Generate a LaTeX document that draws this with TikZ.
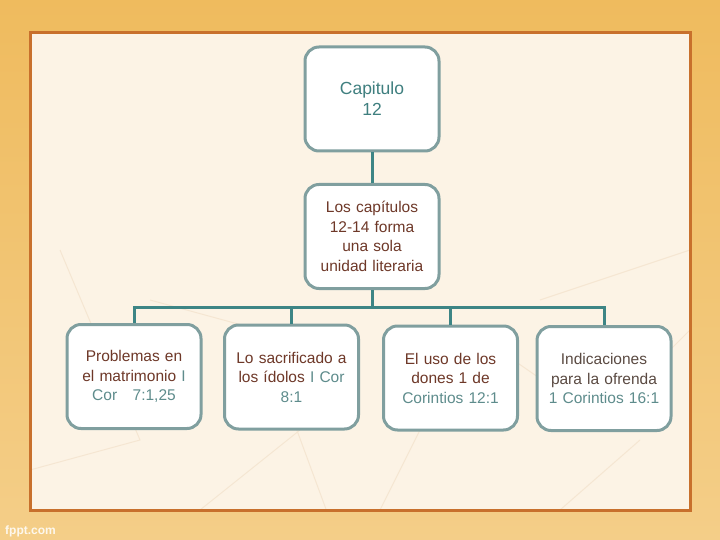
\documentclass[tikz,border=0pt]{standalone}
\usepackage{fontspec}
\setmainfont{Liberation Sans}
\definecolor{bgtop}{HTML}{EFBB5E}
\definecolor{bgbot}{HTML}{F4CE88}
\definecolor{panel}{HTML}{FCF3E5}
\definecolor{panelline}{HTML}{C8702C}
\definecolor{boxline}{HTML}{809F9F}
\definecolor{connc}{HTML}{3D8585}
\definecolor{tealtxt}{HTML}{3F7F7F}
\definecolor{browntxt}{HTML}{6E3828}
\definecolor{reftxt}{HTML}{5E8C8C}
\definecolor{graytxt}{HTML}{5A4A42}
\definecolor{texture}{HTML}{F5E6D2}
\tikzset{
  cbox/.style={draw=boxline, line width=3pt, fill=white, rounded corners=14pt,
    minimum width=134pt, minimum height=104pt, text width=128pt, align=center,
    inner sep=0pt, font=\fontsize{15.5}{19.5}\selectfont},
  conn/.style={draw=connc, line width=3pt}
}
\begin{document}
\begin{tikzpicture}[x=1pt,y=-1pt]
\useasboundingbox (0,0) rectangle (720,540);
\shade[top color=bgtop, bottom color=bgbot] (0,0) rectangle (720,540);
\fill[panel] (30,33) rectangle (690,510);
% faint texture
\begin{scope}[texture, line width=1pt]
\clip (30,33) rectangle (690,510);
\draw (60,250) -- (140,440) -- (30,470);
\draw (150,300) -- (260,330) -- (330,520);
\draw (380,510) -- (470,330) -- (600,420) -- (690,330);
\draw (540,300) -- (690,250);
\draw (200,510) -- (300,430);
\draw (560,510) -- (640,440);
\end{scope}
\draw[panelline, line width=3pt] (30,33) rectangle (690,510);
\node[font=\bfseries\fontsize{12}{14}\selectfont, text=white, opacity=0.85, anchor=west, inner sep=0pt] (fppt) at (5,531) {fppt.com};

\node[cbox, text=tealtxt, font=\fontsize{17.5}{21}\selectfont] (top) at (372,99) {Capitulo\\12};
\node[cbox, text=browntxt] (mid) at (372,236.5) {Los capítulos\\12-14 forma\\una sola\\unidad literaria};
\node[cbox] (b1) at (134,376.5) {\textcolor{browntxt}{Problemas en}\\\textcolor{browntxt}{el matrimonio} \textcolor{reftxt}{I}\\\textcolor{reftxt}{Cor\ \ \ 7:1,25}};
\node[cbox] (b2) at (291.5,377) {\textcolor{browntxt}{Lo sacrificado a}\\\textcolor{browntxt}{los ídolos} \textcolor{reftxt}{I Cor}\\\textcolor{reftxt}{8:1}};
\node[cbox] (b3) at (450.5,378) {\textcolor{browntxt}{El uso de los}\\\textcolor{browntxt}{dones 1 de}\\\textcolor{reftxt}{Corintios 12:1}};
\node[cbox] (b4) at (604,378.5) {\textcolor{graytxt}{Indicaciones}\\\textcolor{graytxt}{para la ofrenda}\\\textcolor{reftxt}{1 Corintios 16:1}};

\coordinate (bar) at (0,307);
\draw[conn] (top.south) -- (mid.north);
\draw[conn] (mid.south) -- (mid.south |- bar);
\draw[conn] (b1.north) |- (b4.north |- bar) -- (b4.north);
\draw[conn] (b2.north) -- (b2.north |- bar);
\draw[conn] (b3.north) -- (b3.north |- bar);
\end{tikzpicture}
\end{document}
